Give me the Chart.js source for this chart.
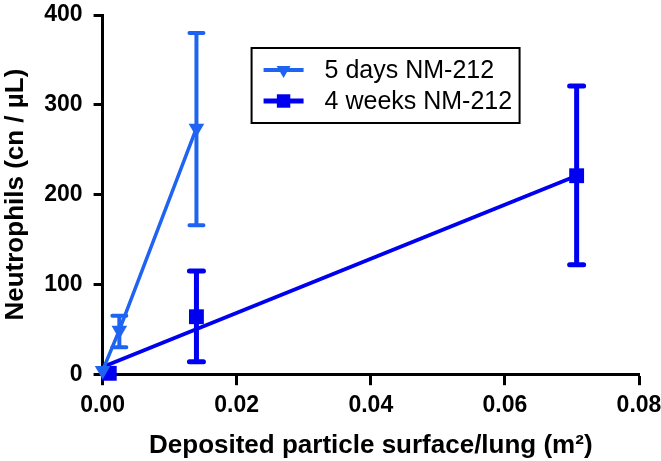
<!DOCTYPE html>
<html>
<head>
<meta charset="utf-8">
<script src="https://cdn.jsdelivr.net/npm/chart.js@4"></script>
<style>
  html, body { margin: 0; padding: 0; background: #fff; }
  #wrap { width: 661px; height: 461px; }
</style>
</head>
<body>
<div id="wrap"><canvas id="chart" width="661" height="461"></canvas></div>
<script>
// 5 days NM-212
const daysX = [0.0, 0.0025, 0.014];
const daysY = [4, 49, 274];
const daysLow = [4, 30, 166];
const daysHigh = [4, 65, 380];

// 4 weeks NM-212
const weeksX = [0.001, 0.014, 0.0707];
const weeksY = [1, 64, 221];
const weeksLow = [1, 14, 122];
const weeksHigh = [1, 115, 321];

// fitted line for 4 weeks
const weeksFitX = [0.0, 0.0707];
const weeksFitY = [8, 221];

const xTicks = [0, 0.02, 0.04, 0.06, 0.08];
const yTicks = [0, 100, 200, 300, 400];

const colDays = '#1f63f2';
const colWeeks = '#0000f0';
const fontFam = '"Liberation Sans", Arial, sans-serif';

const toPts = (xs, ys) => xs.map((x, i) => ({ x: x, y: ys[i] }));

// error bars
const errorBars = {
    id: 'errorBars',
    beforeDatasetsDraw(chart) {
        const ctx = chart.ctx;
        const xs = chart.scales.x, ys = chart.scales.y;
        const sets = [
            { x: daysX, lo: daysLow, hi: daysHigh, color: colDays, w: 4 },
            { x: weeksX, lo: weeksLow, hi: weeksHigh, color: colWeeks, w: 5 }
        ];
        ctx.save();
        sets.forEach(s => {
            ctx.strokeStyle = s.color;
            ctx.lineWidth = s.w;
            ctx.lineCap = 'round';
            s.x.forEach((xv, i) => {
                if (s.lo[i] === s.hi[i]) return;
                const px = xs.getPixelForValue(xv);
                const top = ys.getPixelForValue(s.hi[i]);
                const bot = ys.getPixelForValue(s.lo[i]);
                ctx.beginPath();
                ctx.moveTo(px, top); ctx.lineTo(px, bot);
                ctx.moveTo(px - 7, top); ctx.lineTo(px + 7, top);
                ctx.moveTo(px - 7, bot); ctx.lineTo(px + 7, bot);
                ctx.stroke();
            });
        });
        ctx.restore();
    }
};

// boxed legend inside the plot
const boxLegend = {
    id: 'boxLegend',
    afterDraw(chart) {
        const ctx = chart.ctx;
        const a = chart.chartArea;
        const bx = a.left + 149, by = a.top + 33, bw = 268, bh = 75;
        const items = [
            { label: '5 days NM-212', color: colDays, style: 'triangle', rot: 180, r: 8, lw: 4 },
            { label: '4 weeks NM-212', color: colWeeks, style: 'rect', rot: 0, r: 9.5, lw: 5 }
        ];
        ctx.save();
        ctx.fillStyle = '#fff';
        ctx.fillRect(bx, by, bw, bh);
        ctx.strokeStyle = '#000';
        ctx.lineWidth = 2;
        ctx.strokeRect(bx, by, bw, bh);
        items.forEach((it, i) => {
            const cy = by + 22 + i * 31;
            ctx.strokeStyle = it.color;
            ctx.lineWidth = it.lw;
            ctx.beginPath();
            ctx.moveTo(bx + 12, cy); ctx.lineTo(bx + 52, cy);
            ctx.stroke();
            ctx.fillStyle = it.color;
            Chart.helpers.drawPoint(ctx, { pointStyle: it.style, radius: it.r, rotation: it.rot, borderWidth: 0 }, bx + 32, cy);
            ctx.fillStyle = '#000';
            ctx.font = '25px ' + fontFam;
            ctx.textBaseline = 'middle';
            ctx.fillText(it.label, bx + 73, cy + 1);
        });
        ctx.restore();
    }
};

const tickFont = { family: fontFam, size: 23, weight: 'bold' };
const titleFont = { family: fontFam, size: 26, weight: 'bold' };

new Chart(document.getElementById('chart'), {
    type: 'scatter',
    data: {
        datasets: [
            {
                label: '5 days NM-212',
                data: toPts(daysX, daysY),
                showLine: true,
                borderColor: colDays,
                backgroundColor: colDays,
                borderWidth: 3.5,
                pointStyle: 'triangle',
                pointRotation: 180,
                pointRadius: 9,
                pointBorderWidth: 0,
                clip: false
            },
            {
                label: '4 weeks NM-212',
                data: toPts(weeksX, weeksY),
                showLine: false,
                borderColor: colWeeks,
                backgroundColor: colWeeks,
                pointStyle: 'rect',
                pointRadius: 10.5,
                pointBorderWidth: 0,
                clip: false
            },
            {
                label: 'fit',
                data: toPts(weeksFitX, weeksFitY),
                showLine: true,
                borderColor: colWeeks,
                borderWidth: 4,
                pointRadius: 0,
                clip: false
            }
        ]
    },
    options: {
        responsive: false,
        animation: false,
        layout: { padding: { top: 0, right: 0, left: 0, bottom: 0 } },
        plugins: { legend: { display: false }, tooltip: { enabled: false } },
        scales: {
            x: {
                type: 'linear',
                min: 0, max: 0.08,
                afterBuildTicks: s => { s.ticks = xTicks.map(v => ({ value: v })); },
                afterFit: s => { s.paddingRight = 22; s.paddingLeft = 0; },
                ticks: {
                    color: '#000', font: tickFont, padding: 7,
                    maxRotation: 0,
                    callback: v => v.toFixed(2)
                },
                grid: { drawOnChartArea: false, drawTicks: true, tickLength: 11, tickWidth: 3, tickColor: '#000' },
                border: { display: true, color: '#000', width: 3 },
                title: {
                    display: true,
                    text: 'Deposited particle surface/lung (m²)',
                    color: '#000',
                    font: titleFont,
                    padding: { top: 3, bottom: 0 }
                }
            },
            y: {
                type: 'linear',
                min: 0, max: 400,
                afterBuildTicks: s => { s.ticks = yTicks.map(v => ({ value: v })); },
                afterFit: s => { s.paddingTop = 15; s.paddingBottom = 0; },
                ticks: { color: '#000', font: tickFont, padding: 11 },
                grid: { drawOnChartArea: false, drawTicks: true, tickLength: 9, tickWidth: 3, tickColor: '#000' },
                border: { display: true, color: '#000', width: 3 },
                title: {
                    display: true,
                    text: 'Neutrophils (cn / µL)',
                    color: '#000',
                    font: titleFont,
                    padding: { top: 0, bottom: 2 }
                }
            }
        }
    },
    plugins: [errorBars, boxLegend]
});
</script>
</body>
</html>
